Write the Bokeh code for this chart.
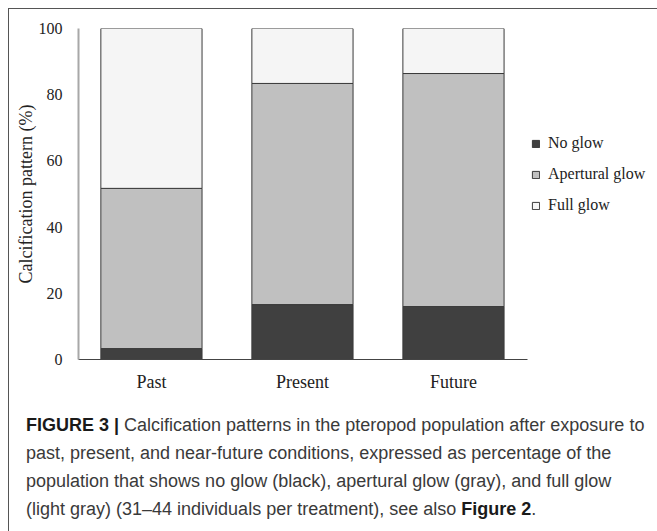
from bokeh.plotting import figure
from bokeh.models import ColumnDataSource, Range1d, FixedTicker, Legend, LegendItem, Div
from bokeh.layouts import column
from bokeh.embed import file_html
from bokeh.resources import INLINE

categories = ["Past", "Present", "Future"]
no_glow = [3.3, 16.6, 16.0]
apertural_glow = [48.4, 66.8, 70.4]
full_glow = [48.3, 16.6, 13.6]
y_ticks = [0, 20, 40, 60, 80, 100]
series_names = ["No glow", "Apertural glow", "Full glow"]
caption_bold_1 = "FIGURE 3 |"
caption_lines = [
    "Calcification patterns in the pteropod population after exposure to",
    "past, present, and near-future conditions, expressed as percentage of the",
    "population that shows no glow (black), apertural glow (gray), and full glow",
    "(light gray) (31\u201344 individuals per treatment), see also",
]
caption_bold_2 = "Figure 2"

xs = list(range(len(categories)))
b1 = no_glow
b2 = [a + b for a, b in zip(no_glow, apertural_glow)]
b3 = [a + b for a, b in zip(b2, full_glow)]
src = ColumnDataSource(dict(x=xs, z=[0] * len(xs), b1=b1, b2=b2, b3=b3))

SERIF = "Liberation Serif"

W = 649
H1 = 400
p = figure(width=W, height=H1, output_backend="svg", toolbar_location=None,
           x_range=Range1d(-0.483, 3.298), y_range=Range1d(0, 100),
           min_border_left=78, min_border_top=28, min_border_right=0,
           min_border_bottom=H1 - 359)
p.border_fill_color = None
p.background_fill_color = None
p.outline_line_color = None
p.grid.visible = False

r1 = p.vbar(x="x", bottom="z", top="b1", width=0.67, source=src,
            fill_color="#404040", line_color="#3a3a3a", line_width=1)
r2 = p.vbar(x="x", bottom="b1", top="b2", width=0.67, source=src,
            fill_color="#c0c0c0", line_color="#3a3a3a", line_width=1)
r3 = p.vbar(x="x", bottom="b2", top="b3", width=0.67, source=src,
            fill_color="#f5f5f5", line_color="#3a3a3a", line_width=1)

xa = p.xaxis[0]
xa.ticker = FixedTicker(ticks=xs)
xa.bounds = (-0.483, 2.49)
xa.major_label_overrides = {i: c for i, c in zip(xs, categories)}
xa.major_tick_line_color = None
xa.minor_tick_line_color = None
xa.axis_line_color = "#444444"
xa.axis_line_width = 1.2
xa.major_label_text_font = SERIF
xa.major_label_text_font_size = "18px"
xa.major_label_text_color = "#222222"
xa.major_label_standoff = 6

ya = p.yaxis[0]
ya.ticker = FixedTicker(ticks=y_ticks)
ya.axis_label = "Calcification pattern (%)"
ya.axis_label_text_font = SERIF
ya.axis_label_text_font_size = "18px"
ya.axis_label_text_font_style = "normal"
ya.axis_label_text_color = "#222222"
ya.axis_label_standoff = 0
ya.major_tick_line_color = None
ya.minor_tick_line_color = None
ya.axis_line_color = "#a8a8a8"
ya.axis_line_width = 2
ya.major_label_text_font = SERIF
ya.major_label_text_font_size = "16px"
ya.major_label_text_color = "#222222"
ya.major_label_standoff = 10

legend = Legend(items=[LegendItem(label=n, renderers=[r]) for n, r in zip(series_names, [r1, r2, r3])],
                location=(453, 144), orientation="vertical",
                glyph_width=9, glyph_height=9, label_height=20, spacing=11,
                label_standoff=8, padding=0, margin=0,
                border_line_color=None, background_fill_color=None,
                label_text_font=SERIF, label_text_font_size="16px",
                label_text_color="#222222")
p.add_layout(legend, "center")

html = ('<div style="font-family: \'Liberation Sans\', Arial, sans-serif; font-size: 18px; '
        'line-height: 28px; color: #3a3a3a; padding: 6px 0 0 21px; white-space: nowrap;">'
        '<b style="color:#1a1a1a">' + caption_bold_1 + '</b> ' + caption_lines[0] + '<br>'
        + caption_lines[1] + '<br>' + caption_lines[2] + '<br>' + caption_lines[3]
        + ' <b style="color:#1a1a1a">' + caption_bold_2 + '</b>.</div>')
cap = Div(text=html, width=W, height=523 - H1)

layout = column(p, cap, spacing=0,
                styles={"box-shadow": "inset 8px 8px 0 0 #ffffff, inset 9px 9px 0 0 #555555",
                        "background-color": "#ffffff"})

open("out.html", "w").write(file_html(layout, INLINE))
